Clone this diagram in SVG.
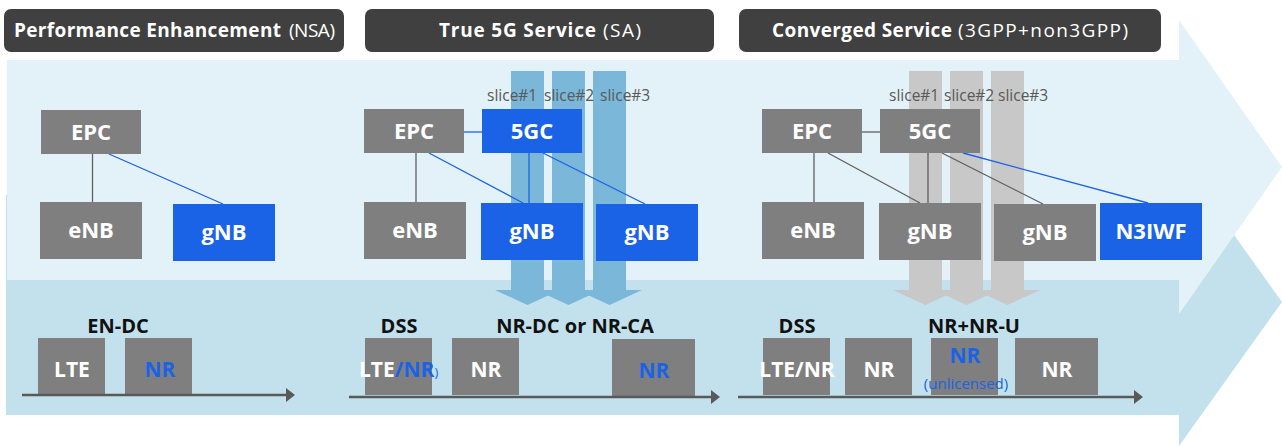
<svg xmlns="http://www.w3.org/2000/svg" width="1282" height="446" viewBox="0 0 1282 446">
<style>
.hdr{fill:#404040}
.ht{font-family:"Open Sans","Noto Sans",sans-serif;font-size:19px;fill:#fff}
.b{font-weight:700}
.g{fill:#7f7f7f}
.bl{fill:#1a63e6}
.nt{font-family:"Open Sans","Noto Sans",sans-serif;font-weight:700;font-size:22px;fill:#fff;text-anchor:middle}
.sl{font-family:"Open Sans","Noto Sans",sans-serif;font-size:15.5px;fill:#595959}
.cg{stroke:#5f5f5f;stroke-width:1.3;fill:none}
.cb{stroke:#1a63e6;stroke-width:1.3;fill:none}
.lbl{font-family:"Open Sans","Noto Sans",sans-serif;font-weight:700;font-size:20px;fill:#111;text-anchor:middle}
.bt{font-family:"Open Sans","Noto Sans",sans-serif;font-weight:700;font-size:21px;fill:#fff;text-anchor:middle}
.bluet{fill:#1a63e6}
.axis{stroke:#595959;stroke-width:2.6;fill:none}
.colb{fill:#7ab7d8}
.colg{fill:#c8c8c8}
</style>
<defs>
<marker id="ah" markerUnits="userSpaceOnUse" markerWidth="10" markerHeight="14" refX="3" refY="7" orient="auto">
<path d="M0,0 L9,7 L0,14 z" fill="#595959"/>
</marker>
</defs>

<g id="background">
<polygon points="6,195 1179,195 1179,158 1282,302 1179,446 1179,415 6,415" fill="#c3e1ec"/>
<polygon points="7,60 1179,60 1179,20 1282,167 1179,314 1179,280 7,280" fill="#e3f2f8"/>
</g>

<g id="headers">
<g id="hdr-nsa">
<rect class="hdr" x="4" y="9" width="340" height="43" rx="7"/>
<text class="ht b" x="14" y="37" textLength="267">Performance Enhancement</text>
<text class="ht" x="289" y="37" textLength="46">(NSA)</text>
</g>
<g id="hdr-sa">
<rect class="hdr" x="365" y="9" width="349" height="43" rx="7"/>
<text class="ht b" x="439" y="37" textLength="157">True 5G Service</text>
<text class="ht" x="603" y="37" textLength="38">(SA)</text>
</g>
<g id="hdr-conv">
<rect class="hdr" x="739" y="9" width="422" height="43" rx="7"/>
<text class="ht b" x="772" y="37" textLength="180">Converged Service</text>
<text class="ht" x="958" y="37" textLength="170">(3GPP+non3GPP)</text>
</g>
</g>

<g id="slices">
<polygon class="colb" points="511,71 544,71 544,290 560,290 527.5,305 495,290 511,290"/>
<polygon class="colb" points="552,71 585,71 585,290 601,290 568.5,305 536,290 552,290"/>
<polygon class="colb" points="593,71 626,71 626,290 642,290 609.5,305 577,290 593,290"/>
<polygon class="colg" points="909,71 942,71 942,290 958,290 925.5,305 893,290 909,290"/>
<polygon class="colg" points="950,71 983,71 983,290 999,290 966.5,305 934,290 950,290"/>
<polygon class="colg" points="991,71 1024,71 1024,290 1040,290 1007.5,305 975,290 991,290"/>
</g>

<g id="connectors">
<line class="cg" x1="92.5" y1="154" x2="92.5" y2="202"/>
<line class="cb" x1="109" y1="154" x2="223" y2="204"/>

<line class="cb" x1="464" y1="132" x2="482" y2="132"/>
<line class="cg" x1="416" y1="153" x2="416" y2="202"/>
<line class="cb" x1="429" y1="153" x2="523" y2="203"/>
<line class="cb" x1="529" y1="153" x2="529" y2="203"/>
<line class="cb" x1="543" y1="153" x2="645" y2="204"/>

<line class="cg" x1="862" y1="132" x2="880" y2="132"/>
<line class="cg" x1="814" y1="153" x2="814" y2="202"/>
<line class="cg" x1="828" y1="153" x2="920" y2="203"/>
<line class="cg" x1="928" y1="153" x2="928" y2="203"/>
<line class="cg" x1="942" y1="153" x2="1043" y2="204"/>
<line class="cb" x1="963" y1="153" x2="1148" y2="203"/>
</g>

<g id="nsa-epc"><rect class="g" x="41" y="110" width="100" height="44"/><text class="nt" x="91" y="140">EPC</text></g>
<g id="nsa-enb"><rect class="g" x="40" y="202" width="102" height="57"/><text class="nt" x="91" y="238">eNB</text></g>
<g id="nsa-gnb"><rect class="bl" x="173" y="204" width="102" height="57"/><text class="nt" x="224" y="240">gNB</text></g>

<g id="sa-epc"><rect class="g" x="364" y="109" width="100" height="44"/><text class="nt" x="414" y="139">EPC</text></g>
<g id="sa-5gc"><rect class="bl" x="482" y="109" width="100" height="44"/><text class="nt" x="532" y="139">5GC</text></g>
<g id="sa-enb"><rect class="g" x="364" y="202" width="102" height="57"/><text class="nt" x="415" y="238">eNB</text></g>
<g id="sa-gnb1"><rect class="bl" x="481" y="203" width="102" height="57"/><text class="nt" x="532" y="239">gNB</text></g>
<g id="sa-gnb2"><rect class="bl" x="596" y="204" width="102" height="57"/><text class="nt" x="647" y="240">gNB</text></g>

<g id="cv-epc"><rect class="g" x="762" y="109" width="100" height="44"/><text class="nt" x="812" y="139">EPC</text></g>
<g id="cv-5gc"><rect class="g" x="880" y="109" width="100" height="44"/><text class="nt" x="930" y="139">5GC</text></g>
<g id="cv-enb"><rect class="g" x="762" y="202" width="102" height="57"/><text class="nt" x="813" y="238">eNB</text></g>
<g id="cv-gnb1"><rect class="g" x="879" y="203" width="102" height="57"/><text class="nt" x="930" y="239">gNB</text></g>
<g id="cv-gnb2"><rect class="g" x="994" y="204" width="102" height="57"/><text class="nt" x="1045" y="240">gNB</text></g>
<g id="cv-n3iwf"><rect class="bl" x="1100" y="203" width="102" height="57"/><text class="nt" x="1151" y="239">N3IWF</text></g>

<g id="slice-labels">
<text class="sl" x="487" y="101">slice#1</text>
<text class="sl" x="544" y="101">slice#2</text>
<text class="sl" x="600" y="101">slice#3</text>
<text class="sl" x="889" y="101">slice#1</text>
<text class="sl" x="944" y="101">slice#2</text>
<text class="sl" x="998" y="101">slice#3</text>
</g>

<g id="spectrum-nsa">
<text class="lbl" x="118" y="333">EN-DC</text>
<rect class="g" x="38" y="338" width="67" height="56"/>
<text class="bt" x="72" y="377">LTE</text>
<rect class="g" x="125" y="338" width="67" height="56"/>
<text class="bt bluet" x="160" y="377">NR</text>
</g>

<g id="spectrum-sa">
<text class="lbl" x="399" y="333">DSS</text>
<text class="lbl" x="575" y="333">NR-DC or NR-CA</text>
<rect class="g" x="365" y="338" width="67" height="57"/>
<text class="bt" x="359" y="377" style="text-anchor:start">LTE<tspan class="bluet">/NR</tspan><tspan class="bluet" style="font-size:13px;font-weight:400">)</tspan></text>
<rect class="g" x="452" y="338" width="67" height="57"/>
<text class="bt" x="486" y="377">NR</text>
<rect class="g" x="612" y="339" width="83" height="57"/>
<text class="bt bluet" x="654" y="378">NR</text>
</g>

<g id="spectrum-conv">
<text class="lbl" x="797" y="333">DSS</text>
<text class="lbl" x="974" y="333">NR+NR-U</text>
<rect class="g" x="763" y="338" width="67" height="57"/>
<text class="bt" x="797" y="377">LTE/NR</text>
<rect class="g" x="845" y="338" width="67" height="57"/>
<text class="bt" x="879" y="377">NR</text>
<rect class="g" x="931" y="338" width="67" height="57"/>
<text class="bt bluet" x="965" y="363">NR</text>
<text x="966" y="389" style="font-family:'Open Sans','Noto Sans',sans-serif;font-size:15px;fill:#1a63e6;text-anchor:middle">(unlicensed)</text>
<rect class="g" x="1015" y="338" width="83" height="57"/>
<text class="bt" x="1057" y="377">NR</text>
</g>

<g id="axes">
<line class="axis" x1="22" y1="395" x2="289" y2="395" marker-end="url(#ah)"/>
<line class="axis" x1="349" y1="397" x2="714" y2="397" marker-end="url(#ah)"/>
<line class="axis" x1="738" y1="397" x2="1137" y2="397" marker-end="url(#ah)"/>
</g>
</svg>
